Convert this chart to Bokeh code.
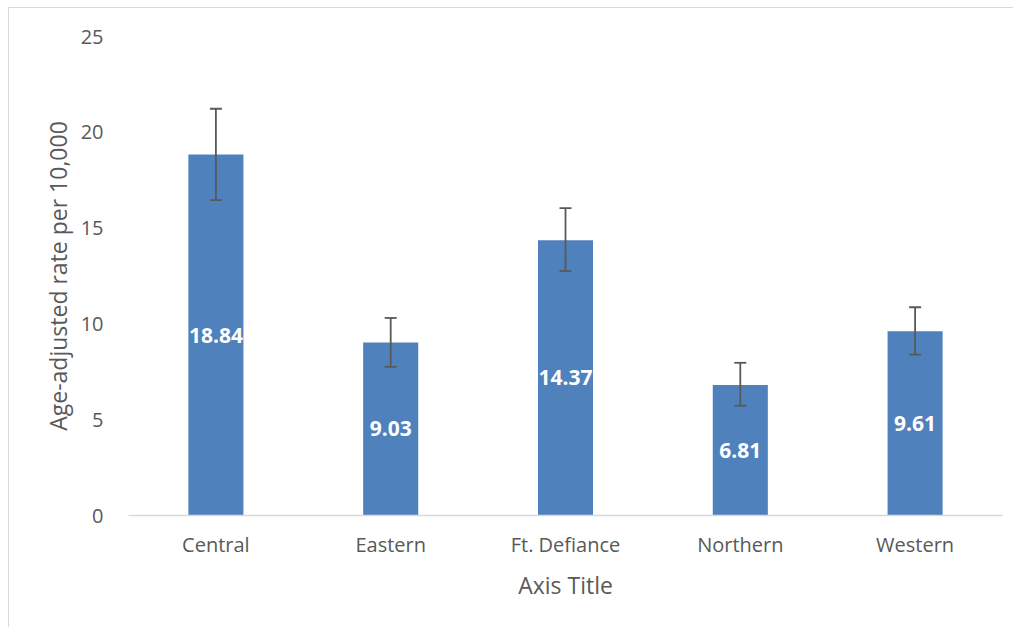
from bokeh.plotting import figure
from bokeh.models import ColumnDataSource, Whisker, FactorRange, TeeHead, LabelSet, FixedTicker
from bokeh.core.properties import value
from bokeh.embed import file_html
from bokeh.resources import INLINE

regions = ["Central", "Eastern", "Ft. Defiance", "Northern", "Western"]
rates = [18.84, 9.03, 14.37, 6.81, 9.61]
lower_ci = [16.46, 7.76, 12.76, 5.73, 8.40]
upper_ci = [21.23, 10.31, 16.04, 7.97, 10.87]
y_ticks = [0, 5, 10, 15, 20, 25]

src = ColumnDataSource(dict(
    x=regions, y=rates, lo=lower_ci, hi=upper_ci,
    mid=[v / 2 for v in rates],
    lab=[f"{v:.2f}" for v in rates],
))

FONT = "Open Sans"
GREY = "#595959"
p = figure(x_range=FactorRange(*regions, range_padding=0), y_range=(0, 25),
           width=1005, height=620, output_backend="svg", toolbar_location=None,
           min_border_left=119, min_border_right=12, min_border_top=28, min_border_bottom=113)
p.styles = {"border-left": "1px solid #d9d9d9", "border-top": "1px solid #d9d9d9",
            "margin-left": "8px", "margin-top": "7px"}
p.outline_line_color = None
p.xgrid.grid_line_color = None
p.ygrid.grid_line_color = None

p.vbar(x="x", top="y", width=0.315, source=src, fill_color="#4f81bd", line_color=None)

w = Whisker(base="x", upper="hi", lower="lo", source=src, line_color=GREY, line_width=1.8,
            upper_head=TeeHead(size=12, line_color=GREY, line_width=1.8),
            lower_head=TeeHead(size=12, line_color=GREY, line_width=1.8),
            level="overlay")
p.add_layout(w)

labels = LabelSet(x="x", y="mid", text="lab", source=src, text_color="white",
                  text_font=value(FONT), text_font_style="bold", text_font_size="21px",
                  text_align="center", text_baseline="middle", level="overlay")
p.add_layout(labels)

p.yaxis.ticker = FixedTicker(ticks=y_ticks)
p.yaxis.axis_line_color = None
p.yaxis.major_tick_line_color = None
p.yaxis.minor_tick_line_color = None
p.yaxis.major_label_standoff = 19
p.yaxis.major_label_text_font = FONT
p.yaxis.major_label_text_font_size = "20px"
p.yaxis.major_label_text_color = GREY
p.yaxis.axis_label = "Age-adjusted rate per 10,000"
p.yaxis.axis_label_text_font = FONT
p.yaxis.axis_label_text_font_size = "23px"
p.yaxis.axis_label_text_font_style = "normal"
p.yaxis.axis_label_text_color = GREY
p.yaxis.axis_label_standoff = 4

p.xaxis.axis_line_color = "#d9d9d9"
p.xaxis.axis_line_width = 1.5
p.xaxis.major_tick_line_color = None
p.xaxis.minor_tick_line_color = None
p.xaxis.major_label_standoff = 9
p.xaxis.major_label_text_font = FONT
p.xaxis.major_label_text_font_size = "20px"
p.xaxis.major_label_text_color = GREY
p.xaxis.axis_label = "Axis Title"
p.xaxis.axis_label_text_font = FONT
p.xaxis.axis_label_text_font_size = "23px"
p.xaxis.axis_label_text_font_style = "normal"
p.xaxis.axis_label_text_color = GREY
p.xaxis.axis_label_standoff = 8

open("out.html", "w").write(file_html(p, INLINE))
